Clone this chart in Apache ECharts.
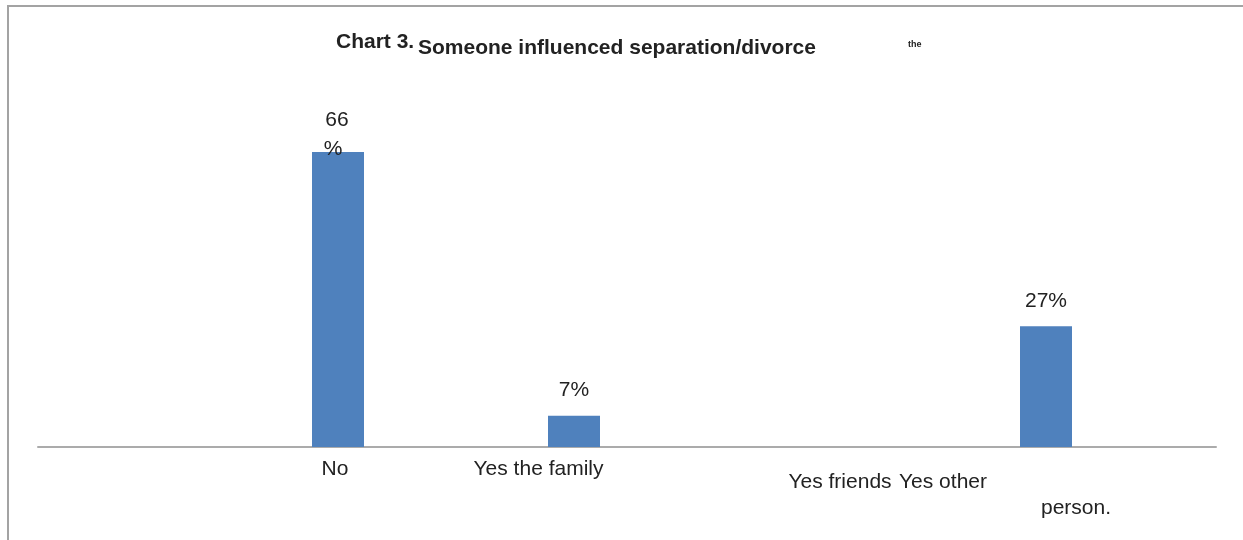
<!DOCTYPE html>
<html>
<head>
<meta charset="utf-8">
<script src="https://cdn.jsdelivr.net/npm/echarts@6/dist/echarts.min.js"></script>
<style>
  html, body { margin: 0; padding: 0; background: #ffffff; }
  #chart { width: 1243px; height: 540px; }
</style>
</head>
<body>
<div id="chart"></div>
<script>
// ---- data ----
const titleLead = 'Chart 3.';
const titleMain = 'Someone influenced separation/divorce';
const titleStray = 'the';
const categories = ['No', 'Yes the family', 'Yes friends', 'Yes other person.'];
const percentages = [66, 7, 0, 27];

// ---- chart ----
const FONT = '"Liberation Sans", Arial, Helvetica, sans-serif';
const TEXT = '#222222';
const chart = echarts.init(document.getElementById('chart'), null, { renderer: 'canvas' });

const barData = percentages.map(function (v, i) {
  if (i === 0) {
    return {
      value: v,
      label: {
        formatter: '{a|{c}}\n{b|%}',
        distance: -12,
        rich: {
          a: { fontSize: 21, lineHeight: 29, color: TEXT, fontFamily: FONT, padding: [0, 2, 0, 0] },
          b: { fontSize: 21, lineHeight: 29, color: TEXT, fontFamily: FONT, padding: [0, 10, 0, 0] }
        }
      }
    };
  }
  return v;
});

const labelBase = { fontSize: 21, lineHeight: 24, color: TEXT, fontFamily: FONT };

const option = {
  backgroundColor: '#ffffff',
  animation: false,
  textStyle: { fontFamily: FONT },
  title: [
    { text: titleLead, left: 336, top: 32, padding: 0,
      textStyle: { fontSize: 21, fontWeight: 'bold', color: TEXT, fontFamily: FONT } },
    { text: titleMain, left: 418, top: 38, padding: 0,
      textStyle: { fontSize: 21, fontWeight: 'bold', color: TEXT, fontFamily: FONT } },
    { text: titleStray, left: 908, top: 40, padding: 0,
      textStyle: { fontSize: 9, fontWeight: 'bold', color: TEXT, fontFamily: FONT } }
  ],
  graphic: [
    { type: 'rect', silent: true, z: -1,
      shape: { x: 8, y: 6, width: 1300, height: 600 },
      style: { fill: 'none', stroke: '#a3a3a3', lineWidth: 2 } }
  ],
  grid: [
    { left: 38, right: 27, top: 0, bottom: 93 },
    { left: 220, right: 79, top: 0, bottom: 93 }
  ],
  xAxis: [
    { gridIndex: 0, type: 'value', min: 0, max: 1, position: 'bottom',
      axisLine: { show: true, onZero: false, lineStyle: { color: '#ababab', width: 2 } },
      axisTick: { show: false }, axisLabel: { show: false }, splitLine: { show: false } },
    { gridIndex: 1, type: 'category', data: categories,
      axisLine: { show: false }, axisTick: { show: false }, splitLine: { show: false },
      axisLabel: {
        interval: 0,
        margin: 10,
        color: TEXT,
        fontSize: 21,
        fontFamily: FONT,
        formatter: function (value, idx) {
          if (idx === 3) {
            const k = value.lastIndexOf(' ');
            return '{c3a|' + value.slice(0, k) + '}\n{c3b|' + value.slice(k + 1) + '}';
          }
          return '{c' + idx + '|' + value + '}';
        },
        rich: {
          c0: Object.assign({ padding: [0, 6, 0, 0] }, labelBase),
          c1: Object.assign({ padding: [0, 71, 0, 0] }, labelBase),
          c2: Object.assign({ padding: [27, 0, 0, 60] }, labelBase),
          c3a: Object.assign({ padding: [27, 206, 0, 0] }, labelBase),
          c3b: Object.assign({ padding: [31, 0, 0, 60] }, labelBase)
        }
      } }
  ],
  yAxis: [
    { gridIndex: 0, type: 'value', min: 0, max: 1, show: false },
    { gridIndex: 1, type: 'value', min: 0, max: 100, show: false }
  ],
  series: [
    {
      type: 'bar',
      xAxisIndex: 1,
      yAxisIndex: 1,
      data: barData,
      barWidth: 52,
      itemStyle: { color: '#4f81bd' },
      label: {
        show: true,
        position: 'top',
        distance: 15,
        fontSize: 21,
        color: TEXT,
        fontFamily: FONT,
        formatter: function (p) { return p.value ? p.value + '%' : ''; }
      }
    }
  ]
};

chart.setOption(option);
</script>
</body>
</html>
